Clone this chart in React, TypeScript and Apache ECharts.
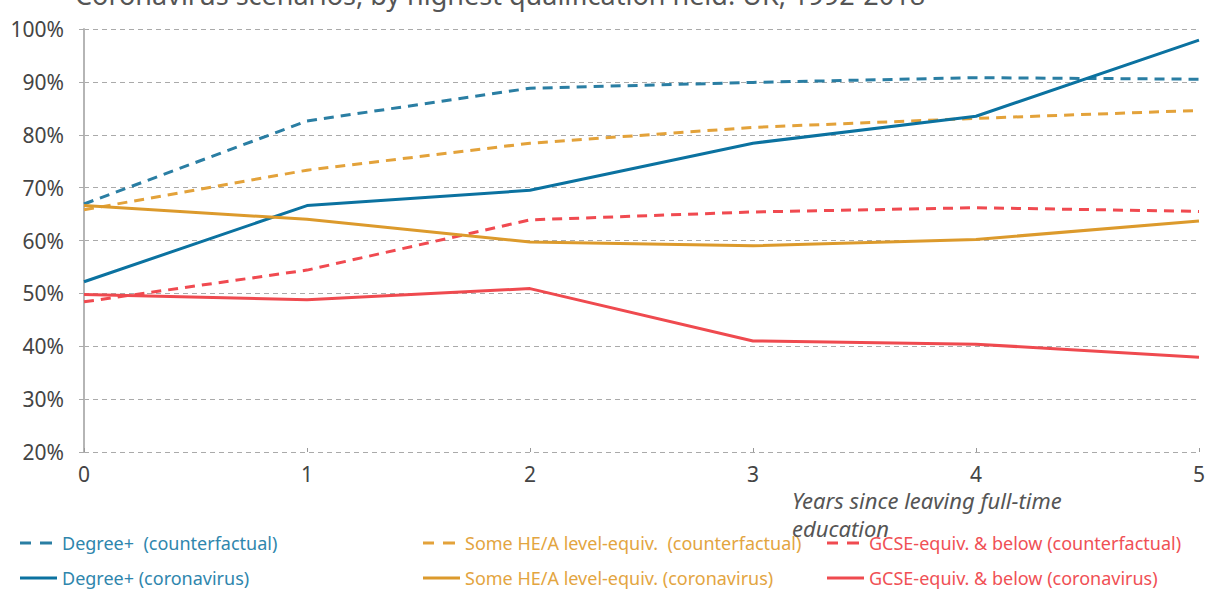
import React, { useEffect, useRef } from "react";
import * as echarts from "echarts";

const years = ["0", "1", "2", "3", "4", "5"];
const degreeCounterfactual = [66.9, 82.6, 88.8, 89.9, 90.8, 90.5];
const someHECounterfactual = [65.8, 73.3, 78.4, 81.4, 83.1, 84.6];
const gcseCounterfactual = [48.4, 54.4, 63.9, 65.4, 66.2, 65.5];
const degreeCorona = [52.2, 66.6, 69.5, 78.4, 83.5, 97.9];
const someHECorona = [66.6, 64.0, 59.7, 59.0, 60.2, 63.7];
const gcseCorona = [49.8, 48.8, 50.9, 41.0, 40.4, 37.9];
const yTicks = [20, 30, 40, 50, 60, 70, 80, 90, 100];

const names = {
  degCf: "Degree+  (counterfactual)",
  heCf: "Some HE/A level-equiv.  (counterfactual)",
  gcCf: "GCSE-equiv. & below (counterfactual)",
  degCv: "Degree+ (coronavirus)",
  heCv: "Some HE/A level-equiv. (coronavirus)",
  gcCv: "GCSE-equiv. & below (coronavirus)",
};

const BLUE_D = "#2a7ea3";
const BLUE_S = "#0b72a0";
const ORANGE_D = "#e3a23a";
const ORANGE_S = "#dc9a2c";
const RED_D = "#f04a50";
const RED_S = "#ef4a4f";

const FONT = "'Noto Sans', 'Liberation Sans', sans-serif";
const DASH_ICON = "path://M0,0h11v3h-11zM20,0h12v3h-12z";
const SOLID_ICON = "path://M0,0h37v3h-37z";

export default function App() {
  const ref = useRef<HTMLDivElement>(null);
  useEffect(() => {
    document.body.style.margin = "0";
    const chart = echarts.init(ref.current!, null, { renderer: "svg" });
    const line = (name: string, data: number[], color: string, dashed: boolean) => ({
      name,
      type: "line",
      data,
      symbol: "none",
      showSymbol: false,
      lineStyle: { color, width: 3, type: dashed ? [10, 7] : "solid" },
      itemStyle: { color },
      z: dashed ? 3 : 4,
    });
    const legendItem = (left: number, centerY: number, name: string, color: string, dashed: boolean) => ({
      orient: "horizontal",
      left,
      top: centerY - 11,
      icon: dashed ? DASH_ICON : SOLID_ICON,
      itemWidth: dashed ? 32 : 37,
      itemHeight: 3,
      padding: 0,
      textStyle: {
        fontFamily: FONT,
        fontSize: 18,
        color,
        padding: [0, 0, 0, dashed ? 5 : 0],
      },
      data: [{ name }],
    });
    chart.setOption({
      animation: false,
      textStyle: { fontFamily: FONT },
      grid: { left: 84, right: 6, top: 29, bottom: 138 },
      xAxis: {
        type: "category",
        data: years,
        boundaryGap: false,
        axisLine: { show: false },
        axisTick: {
          show: true,
          inside: true,
          length: 4,
          alignWithLabel: true,
          lineStyle: { color: "#999" },
        },
        axisLabel: { color: "#444", fontSize: 21, margin: 11, fontFamily: FONT },
        splitLine: { show: false },
      },
      yAxis: {
        type: "value",
        min: yTicks[0],
        max: yTicks[yTicks.length - 1],
        interval: 10,
        axisLine: { show: true, lineStyle: { color: "#b5b5b5", width: 2 } },
        axisTick: { show: true, length: 7, lineStyle: { color: "#aaa", type: [5, 4] } },
        axisLabel: {
          color: "#444",
          fontSize: 21,
          margin: 20,
          fontFamily: FONT,
          formatter: (v: number) => v + "%",
        },
        splitLine: { show: true, lineStyle: { color: "#aaa", width: 1, type: [5, 4] } },
      },
      legend: [
        legendItem(20, 545, names.degCf, "#2f86ad", true),
        legendItem(20, 580, names.degCv, "#2f86ad", false),
        legendItem(423, 545, names.heCf, "#e3a53f", true),
        legendItem(423, 580, names.heCv, "#e3a53f", false),
        legendItem(827, 545, names.gcCf, "#f05055", true),
        legendItem(827, 580, names.gcCv, "#f05055", false),
      ],
      graphic: [
        {
          type: "text",
          left: 75,
          top: -19,
          style: {
            text: "Coronavirus scenarios, by highest qualification held: UK, 1992-2018",
            fontSize: 27,
            fontFamily: FONT,
            fill: "#555",
          },
        },
        {
          type: "text",
          left: 792,
          top: 486,
          style: {
            text: "Years since leaving full-time\neducation",
            fontSize: 22,
            fontStyle: "italic",
            fontFamily: FONT,
            fill: "#555",
            lineHeight: 28,
          },
        },
      ],
      series: [
        line(names.degCf, degreeCounterfactual, BLUE_D, true),
        line(names.degCv, degreeCorona, BLUE_S, false),
        line(names.heCf, someHECounterfactual, ORANGE_D, true),
        line(names.heCv, someHECorona, ORANGE_S, false),
        line(names.gcCf, gcseCounterfactual, RED_D, true),
        line(names.gcCv, gcseCorona, RED_S, false),
      ],
    });
    return () => chart.dispose();
  }, []);
  return (
    <div
      ref={ref}
      style={{ position: "fixed", left: 0, top: 0, width: 1208, height: 590, background: "#fff" }}
    />
  );
}
